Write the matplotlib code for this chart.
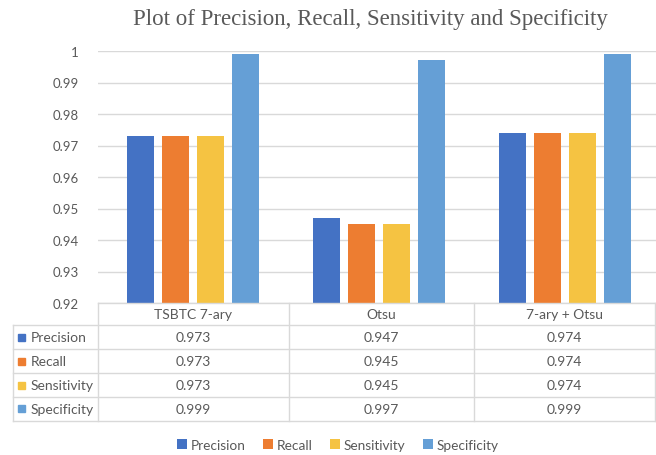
import matplotlib
matplotlib.use("Agg")
import matplotlib.pyplot as plt
import numpy as np

# data
categories = ["TSBTC 7-ary", "Otsu", "7-ary + Otsu"]
series_names = ["Precision", "Recall", "Sensitivity", "Specificity"]
precision = [0.973, 0.947, 0.974]
recall = [0.973, 0.945, 0.974]
sensitivity = [0.973, 0.945, 0.974]
specificity = [0.999, 0.997, 0.999]
yticks = [0.92, 0.93, 0.94, 0.95, 0.96, 0.97, 0.98, 0.99, 1.0]
ytick_labels = ["0.92", "0.93", "0.94", "0.95", "0.96", "0.97", "0.98", "0.99", "1"]

colors = ["#4472C4", "#ED7D31", "#F5C342", "#659FD6"]
values = [precision, recall, sensitivity, specificity]

TEXT = "#595959"
LINE = "#D9D9D9"
FONT = ["Lato", "DejaVu Sans"]

W, H = 656, 456
fig = plt.figure(figsize=(W / 100, H / 100), dpi=100)

# pixel helpers
def fx(px):
    return px / W

def fy(py):
    return 1 - py / H

left, right, top, bottom = 98, 656, 52, 304
ax = fig.add_axes([fx(left), fy(bottom), fx(right) - fx(left), fy(top) - fy(bottom)])

x = np.arange(len(categories))
step = 0.188
width = 0.145
for i, (name, vals) in enumerate(zip(series_names, values)):
    ax.bar(x + (i - 1.5) * step + 0.01, vals, width, color=colors[i], label=name, zorder=3)

ax.set_xlim(-0.5, len(categories) - 0.5)
ax.set_ylim(0.92, 1.0)
ax.set_yticks(yticks)
ax.set_yticklabels(ytick_labels, fontsize=9.5, color=TEXT, family=FONT)
ax.tick_params(axis="y", length=0, pad=14)
ax.set_xticks([])
ax.grid(axis="y", color=LINE, linewidth=1, zorder=0)
for s in ax.spines.values():
    s.set_visible(False)

fig.text(fx(370), fy(19), "Plot of Precision, Recall, Sensitivity and Specificity",
         ha="center", va="center", fontsize=16.5, color=TEXT, family="Liberation Serif")

# data table drawn on an overlay in pixel units
ov = fig.add_axes([0, 0, 1, 1])
ov.set_xlim(0, W)
ov.set_ylim(H, 0)
ov.axis("off")

col_edges = [left, 289, 474, 655]
row_edges = [304, 326, 350, 374, 398, 422]
label_left = 13

ov.plot([left, col_edges[-1]], [row_edges[0], row_edges[0]], color=LINE, lw=1)
for ry in row_edges[1:]:
    ov.plot([label_left, col_edges[-1]], [ry, ry], color=LINE, lw=1)
for cx in col_edges:
    ov.plot([cx, cx], [row_edges[0], row_edges[-1]], color=LINE, lw=1)
ov.plot([label_left, label_left], [row_edges[1], row_edges[-1]], color=LINE, lw=1)

for j, cat in enumerate(categories):
    cx = (col_edges[j] + col_edges[j + 1]) / 2
    ov.text(cx, (row_edges[0] + row_edges[1]) / 2, cat, ha="center", va="center",
            fontsize=10, color=TEXT, family=FONT)

for i, (name, vals) in enumerate(zip(series_names, values)):
    cy = (row_edges[i + 1] + row_edges[i + 2]) / 2
    ov.add_patch(plt.Rectangle((18, cy - 3.5), 7, 7, color=colors[i]))
    ov.text(31, cy, name, ha="left", va="center", fontsize=10, color=TEXT, family=FONT)
    for j, v in enumerate(vals):
        cx = (col_edges[j] + col_edges[j + 1]) / 2
        ov.text(cx, cy, f"{v:.3f}", ha="center", va="center", fontsize=10,
                color=TEXT, family=FONT)

# legend
handles, labels = ax.get_legend_handles_labels()
fig.legend(handles, labels, loc="center", bbox_to_anchor=(fx(338), fy(446)), ncol=4,
           frameon=False, prop={"family": FONT, "size": 9.8},
           handlelength=0.7, handleheight=0.7, handletextpad=0.3, columnspacing=1.3,
           labelcolor=TEXT)

fig.savefig("out.png", dpi=100)
